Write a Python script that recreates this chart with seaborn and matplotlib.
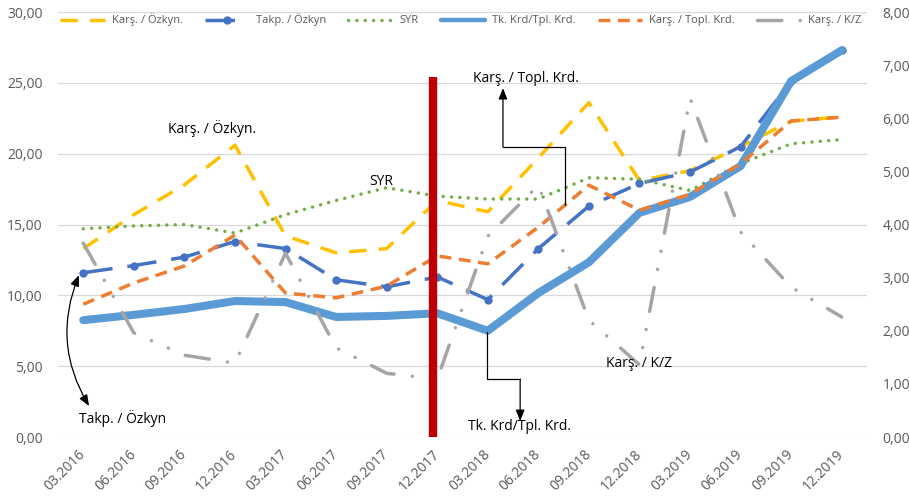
import numpy as np
import matplotlib
matplotlib.use("Agg")
import matplotlib.pyplot as plt
import seaborn as sns
from matplotlib.ticker import FuncFormatter, MultipleLocator

# Quarter-end periods
periods = ["03.2016", "06.2016", "09.2016", "12.2016", "03.2017", "06.2017",
           "09.2017", "12.2017", "03.2018", "06.2018", "09.2018", "12.2018",
           "03.2019", "06.2019", "09.2019", "12.2019"]

# Left axis series
kars_ozkyn = [13.3, 15.7, 17.8, 20.6, 14.2, 13.0, 13.3, 16.7,
              15.9, 19.7, 23.6, 18.1, 18.8, 20.5, 22.3, 22.6]
takp_ozkyn = [11.6, 12.1, 12.7, 13.8, 13.3, 11.1, 10.6, 11.3,
              9.7, 13.3, 16.3, 17.9, 18.7, 20.5, 25.1, 27.3]
syr = [14.7, 14.9, 15.0, 14.4, 15.7, 16.7, 17.6, 17.0,
       16.8, 16.8, 18.3, 18.2, 17.4, 19.3, 20.7, 21.0]

# Right axis series
tk_krd_tpl_krd = [2.20, 2.30, 2.41, 2.56, 2.54, 2.26, 2.28, 2.33,
                  2.00, 2.71, 3.29, 4.22, 4.52, 5.10, 6.70, 7.28]
kars_topl_krd = [2.50, 2.90, 3.22, 3.80, 2.71, 2.62, 2.84, 3.41,
                 3.26, 3.95, 4.74, 4.27, 4.57, 5.14, 5.95, 6.02]
kars_kz = [3.65, 1.96, 1.54, 1.39, 3.46, 1.68, 1.20, 1.09,
           3.78, 4.74, 2.20, 1.36, 6.38, 3.86, 2.82, 2.26]

series_names = ["Karş. / Özkyn.", "Takp. / Özkyn", "SYR",
                "Tk. Krd/Tpl. Krd.", "Karş. / Topl. Krd.", "Karş. / K/Z"]

sns.set_theme(style="white")
plt.rcParams["font.family"] = ["Open Sans", "DejaVu Sans"]

GRID = "#D9D9D9"
LABEL = "#595959"

fig = plt.figure(figsize=(9.09, 4.99), dpi=100)
ax = fig.add_axes([0.0638, 0.1242, 0.890, 0.8517])
ax2 = ax.twinx()

x = np.arange(len(periods))

# Primary axis lines
sns.lineplot(x=x, y=kars_ozkyn, ax=ax, color="#FFC000", lw=2.5,
             linestyle=(0, (5, 3.5)), label=series_names[0], legend=False)
sns.lineplot(x=x, y=takp_ozkyn, ax=ax, color="#4472C4", lw=2.5,
             linestyle=(0, (8.5, 4.3)), marker="o", markersize=6,
             markeredgewidth=0, label=series_names[1], legend=False)
sns.lineplot(x=x, y=syr, ax=ax, color="#70AD47", lw=2.5,
             linestyle=(0, (0.01, 2.4)), dash_capstyle="round",
             label=series_names[2], legend=False)

# Secondary axis lines
sns.lineplot(x=x, y=tk_krd_tpl_krd, ax=ax2, color="#5B9BD5", lw=5.8,
             solid_joinstyle="round", solid_capstyle="round",
             label=series_names[3], legend=False)
sns.lineplot(x=x, y=kars_topl_krd, ax=ax2, color="#ED7D31", lw=2.5,
             linestyle=(0, (3.4, 2.2)), label=series_names[4], legend=False)
sns.lineplot(x=x, y=kars_kz, ax=ax2, color="#A5A5A5", lw=2.5,
             linestyle=(0, (7.0, 5.3, 0.01, 5.3, 0.01, 5.3)),
             dash_capstyle="round", label=series_names[5], legend=False)

# Axes limits and ticks
ax.set_xlim(-0.5, len(periods) - 0.5)
ax.set_ylim(0, 30)
ax2.set_ylim(0, 8)
ax.yaxis.set_major_locator(MultipleLocator(5))
ax2.yaxis.set_major_locator(MultipleLocator(1))
fmt = FuncFormatter(lambda v, _: f"{v:.2f}".replace(".", ","))
ax.yaxis.set_major_formatter(fmt)
ax2.yaxis.set_major_formatter(fmt)

ax.set_xticks(x)
ax.set_xticklabels(periods, rotation=45, ha="right", va="center",
                   rotation_mode="anchor")
ax.tick_params(axis="x", length=0, pad=11, labelsize=10, labelcolor=LABEL)
ax.tick_params(axis="y", length=0, pad=11, labelsize=10, labelcolor=LABEL)
ax2.tick_params(axis="y", length=0, pad=11, labelsize=10, labelcolor=LABEL)

ax.yaxis.grid(True, color=GRID, lw=0.9)
ax.xaxis.grid(False)
ax2.grid(False)
for a in (ax, ax2):
    for s in a.spines.values():
        s.set_visible(False)
    a.set_xlabel("")
    a.set_ylabel("")

# Vertical marker at the end of 2017
ax2.plot([6.92, 6.92], [0, 25.4], transform=ax.transData, color="#C00000",
         lw=6, solid_capstyle="butt", zorder=10)

# Series call-outs
txt = dict(fontsize=10, color="black", ha="center", va="center",
           transform=ax.transData, zorder=12)
ax2.text(2.55, 21.8, "Karş. / Özkyn.", **txt)
ax2.text(5.89, 18.07, "SYR", **txt)
ax2.text(8.76, 25.3, "Karş. / Topl. Krd.", **txt)
ax2.text(8.62, 0.71, "Tk. Krd/Tpl. Krd.", **txt)
ax2.text(10.99, 5.22, "Karş. / K/Z", **txt)
ax2.text(0.77, 1.34, "Takp. / Özkyn", **txt)

arrow = dict(arrowstyle="-|>,head_length=0.55,head_width=0.22",
             color="black", lw=0.9, shrinkA=0, shrinkB=0)


def elbow(points):
    xs = [p[0] for p in points[:-1]]
    ys = [p[1] for p in points[:-1]]
    ax2.plot(xs, ys, transform=ax.transData, color="black", lw=0.9, zorder=12)
    ax2.annotate("", xy=points[-1], xytext=points[-2],
                 xycoords=ax.transData, textcoords=ax.transData,
                 arrowprops=arrow, zorder=12)


elbow([(9.53, 16.37), (9.53, 20.47), (8.30, 20.47), (8.30, 24.63)])
elbow([(7.98, 7.41), (7.98, 4.09), (8.64, 4.09), (8.64, 1.13)])

ax2.annotate("", xy=(0.115, 2.19), xytext=(-0.085, 11.43),
             xycoords=ax.transData, textcoords=ax.transData,
             arrowprops=dict(arrowstyle="<|-|>,head_length=0.55,head_width=0.22",
                             connectionstyle="arc3,rad=0.25",
                             color="black", lw=0.9, shrinkA=0, shrinkB=0),
             zorder=12)

# Legend across the top
handles = ax.get_lines()[:3] + ax2.get_lines()[:3]
leg = fig.legend(handles, series_names, loc="center", ncol=6,
                 bbox_to_anchor=(0.507, 0.96), frameon=False, fontsize=8,
                 labelcolor=LABEL, handlelength=4.0, handletextpad=0.6,
                 columnspacing=2.0)
leg.legend_handles[3].set_linewidth(3.2)

fig.savefig("out.png", dpi=100)
